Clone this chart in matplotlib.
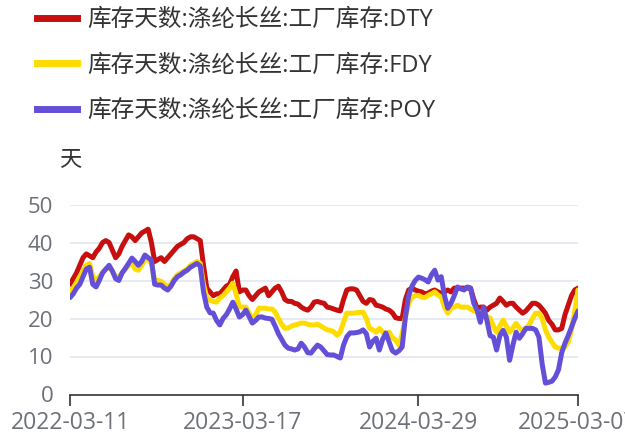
import numpy as np
import pandas as pd
import matplotlib
matplotlib.use('Agg')
import matplotlib.pyplot as plt
import matplotlib.dates as mdates
from matplotlib.lines import Line2D

plt.rcParams['font.family'] = ['Open Sans', 'Noto Sans CJK SC', 'DejaVu Sans']

# weekly dates (Fridays)
dates = pd.date_range('2022-03-11', periods=157, freq='7D')

dty = [29, 30.5, 32, 34, 36, 37, 36.5, 36, 37.5, 38.5,
       40, 40.5, 40, 38, 36, 37, 39, 40.5, 42, 41.5,
       40.5, 41.5, 42.5, 43, 43.5, 40, 35, 35.5, 36, 35,
       36, 37, 38, 39, 39.5, 40, 41, 41.5, 41.5, 41,
       40.5, 34, 28, 27, 26, 26.5, 26.5, 27.5, 28.5, 29,
       31, 32.5, 27, 27.5, 27.5, 26, 25, 26, 27, 27.5,
       28, 26, 27, 28, 28.5, 27, 25, 24.5, 24.5, 24,
       23.8, 23, 22.5, 22.2, 23, 24.3, 24.5, 24.2, 24, 23,
       22.8, 22.5, 22.2, 22, 25, 27.5, 27.8, 27.8, 27.5, 26,
       24.5, 24, 25, 24.8, 23.5, 23.3, 23, 22.5, 22.2, 21.5,
       20.2, 20, 20, 25, 27.5, 28, 27.5, 27.2, 27, 26.5,
       26.7, 27.2, 27.5, 27, 26.6, 27, 27.5, 27, 28, 28,
       28, 28, 28, 28, 25, 22.7, 23, 23, 22.2, 23,
       23.5, 24, 25.4, 24.5, 23.5, 24, 24, 23, 22.2, 21.4,
       22, 23, 24, 24, 23.5, 22.5, 21.4, 19.5, 18.5, 17,
       17, 17.4, 21, 23.5, 26, 27.5, 28]

fdy = [27, 28, 29.5, 31, 32.5, 34, 34.5, 31, 30, 31,
       32, 33, 33.5, 32.5, 31, 31, 32, 33, 34, 34.5,
       33, 32.7, 34, 35.5, 35.5, 34.5, 30, 30, 29.8, 29,
       28.5, 29, 30.5, 31.5, 32, 32.5, 33, 34, 34.5, 35,
       34.5, 29, 25.5, 24.8, 24.5, 24.3, 25.4, 26, 27, 28,
       29.3, 26.5, 23, 23, 23, 21.5, 19.6, 21, 22.7, 22.7,
       22.7, 22.5, 22.5, 21.7, 20, 18.5, 17.4, 17.5, 18, 18.3,
       18.5, 18.8, 18.8, 18.5, 18.3, 18.3, 18.5, 18, 17.5, 17,
       16.9, 16.5, 15.6, 16.5, 19, 21.4, 21.4, 21.4, 21.5, 21.6,
       21.7, 20, 17.4, 17, 16.4, 17.4, 16.5, 15.6, 16.4, 15,
       14.3, 13, 16, 20.4, 24, 25.6, 26, 26.1, 25.6, 25.5,
       26.1, 26.5, 27, 26.2, 25.6, 23, 21.4, 22.7, 23, 23.5,
       23, 23, 23, 22.5, 22, 21.7, 21.5, 21, 20.5, 20.1,
       18, 16.4, 18, 19.6, 18, 16.4, 17.5, 18.7, 17.5, 16.9,
       17.5, 18.3, 20, 21.4, 21.4, 20, 17, 15.1, 13.8, 12.5,
       12.2, 12.2, 12.5, 13.8, 17, 22, 27.5]

poy = [25.5, 26.5, 28, 29, 31, 33, 33.5, 29, 28.3, 30,
       32, 33, 34, 32.5, 30.5, 30, 32, 33.2, 34.5, 35.9,
       35, 34, 35, 36.7, 36, 35.4, 29, 28.8, 28.8, 28,
       27.5, 28.5, 30, 31, 31.5, 32.2, 32.7, 33.5, 34, 34.5,
       33.8, 27, 23, 21.5, 21.4, 19.5, 18.3, 20, 21, 22.5,
       24.3, 22.5, 20.4, 21, 22.2, 20.5, 18.8, 19.5, 20.4, 20.4,
       20.1, 20, 19.8, 18, 16, 14.5, 13, 12.2, 12, 11.7,
       12, 13.5, 12.5, 11, 10.9, 12, 13, 12.5, 11.5, 10.5,
       10.4, 10.4, 10, 9.6, 13, 15.2, 16.2, 16.2, 16.3, 16.5,
       17, 16, 12.5, 14, 14.8, 11.7, 14.5, 16.2, 13.8, 11.5,
       10.9, 11.5, 12.5, 20.4, 26, 28.5, 30, 30.9, 30.6, 30.2,
       29.6, 31.5, 32.7, 30.1, 31, 26, 22.7, 24, 26, 28.3,
       27.8, 27.5, 28.3, 28, 24, 22.2, 19, 23, 19.6, 15.5,
       15.1, 11.7, 15.5, 16.9, 15.1, 9, 13, 16.4, 14.8, 16,
       17.4, 17.4, 17.4, 17, 15.1, 8, 3, 3.2, 3.5, 4.6,
       6.5, 11, 13.5, 15.5, 17.7, 20, 22]

labels = ['库存天数:涤纶长丝:工厂库存:DTY',
          '库存天数:涤纶长丝:工厂库存:FDY',
          '库存天数:涤纶长丝:工厂库存:POY']
colors = ['#C80F0F', '#FFDC00', '#6450D8']
tick_dates = ['2022-03-11', '2023-03-17', '2024-03-29', '2025-03-07']
yticks = [0, 10, 20, 30, 40, 50]

fig = plt.figure(figsize=(6.25, 4.37), dpi=100)
ax = fig.add_axes([70/625, 1-394.5/437, 508/625, 190/437])

for vals, c in zip([dty, fdy, poy], colors):
    ax.plot(dates, vals, color=c, lw=3.6, solid_joinstyle='round', solid_capstyle='round')

ax.set_ylim(0, 50)
ax.set_xlim(dates[0], dates[-1])
ax.set_yticks(yticks)
for y in yticks[1:]:
    ax.axhline(y, color='#E0E6F1', lw=1.2, zorder=0)

ax.set_xticks(pd.to_datetime(tick_dates))
ax.xaxis.set_major_formatter(mdates.DateFormatter('%Y-%m-%d'))
ax.tick_params(axis='x', length=8, width=1.2, color='#333333', labelsize=16.5,
               labelcolor='#6E7079', pad=4)
ax.tick_params(axis='y', length=0, labelsize=16, labelcolor='#6E7079', pad=12)
for s in ['top', 'right', 'left']:
    ax.spines[s].set_visible(False)
ax.spines['bottom'].set_color('#333333')
ax.spines['bottom'].set_linewidth(1.2)

fig.text(70/625, 1-161/437, '天', ha='center', va='center', fontsize=16, color='#333333')

handles = [Line2D([], [], color=c, lw=5) for c in colors]
fig.legend(handles, labels, loc='upper left', bbox_to_anchor=(25/625, 1.008),
           frameon=False, fontsize=17, handlelength=1.7, handletextpad=0.45,
           labelspacing=0.9, labelcolor='#333333', borderaxespad=0.1)

fig.savefig('out.png', dpi=100)
